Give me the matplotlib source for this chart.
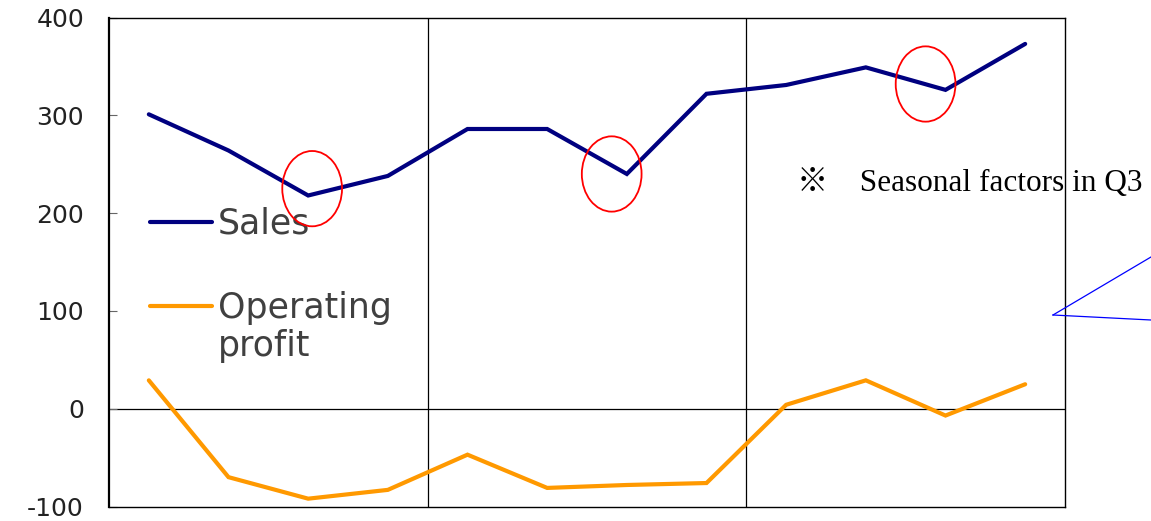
import matplotlib
matplotlib.use("Agg")
import matplotlib.pyplot as plt
import numpy as np
from matplotlib.patches import Ellipse
from matplotlib.lines import Line2D

# data (12 periods, 3 groups of 4)
periods = np.arange(12)
sales = [301, 264, 218, 238, 286, 286, 240, 322, 331, 349, 326, 373]
op_profit = [29, -70, -92, -83, -47, -81, -78, -76, 4, 29, -7, 25]
y_ticks = [-100, 0, 100, 200, 300, 400]
group_breaks = [3.5, 7.5]
series_names = ['Sales', 'Operating\nprofit']

NAVY = '#000080'
ORANGE = '#FF9900'

plt.rcParams['font.family'] = ['DejaVu Sans']
plt.rcParams['axes.unicode_minus'] = False

fig = plt.figure(figsize=(11.51, 5.21), dpi=100)
ax = fig.add_axes([109 / 1151, 14.5 / 521, 956 / 1151, 489 / 521])

ax.plot(periods, sales, color=NAVY, lw=3, solid_capstyle='round',
        solid_joinstyle='miter', zorder=3)
ax.plot(periods, op_profit, color=ORANGE, lw=3, solid_capstyle='round',
        solid_joinstyle='miter', zorder=3)

ax.axhline(0, color='black', lw=0.9, zorder=1)
for xb in group_breaks:
    ax.axvline(xb, color='black', lw=0.9, zorder=1)

ax.set_xlim(-0.5, 11.5)
ax.set_ylim(-100, 400)
ax.set_xticks([])
ax.set_yticks(y_ticks)
ax.tick_params(axis='y', direction='in', length=6, color='#666666',
               labelsize=18, pad=18, labelcolor='#222222')
for side in ['top', 'right', 'bottom']:
    ax.spines[side].set_linewidth(1.0)
ax.spines['left'].set_linewidth(1.6)

# red circles marking the seasonal dips
for cx, cy in [(2.05, 225), (5.81, 240), (9.75, 332)]:
    ax.add_patch(Ellipse((cx, cy), 0.75, 77, fill=False, ec='red', lw=1.3,
                         zorder=4))

# legend drawn by hand (handle sits on the first text line, as in Excel)
for (y, name, col) in [(0.582, series_names[0], NAVY),
                       (0.410, series_names[1], ORANGE)]:
    ax.add_artist(Line2D([0.043, 0.1075], [y, y], transform=ax.transAxes,
                         color=col, lw=3, solid_capstyle='round'))
    ax.text(0.114, y + 0.031, name, transform=ax.transAxes, ha='left',
            va='top', fontsize=25, color='#404040', linespacing=1.15)

fig.text(797 / 1151, 1 - 184 / 521, '※    Seasonal factors in Q3',
         family=['Liberation Serif', 'Noto Sans CJK JP'], fontsize=22.5,
         va='center', ha='left')

# callout lines running off the right edge
fig.add_artist(Line2D([1053 / 1151, 1.0], [1 - 315 / 521, 1 - 257 / 521],
                      color='blue', lw=0.9))
fig.add_artist(Line2D([1053 / 1151, 1.0], [1 - 315 / 521, 1 - 320 / 521],
                      color='blue', lw=0.9))

fig.savefig('out.png', dpi=100)
